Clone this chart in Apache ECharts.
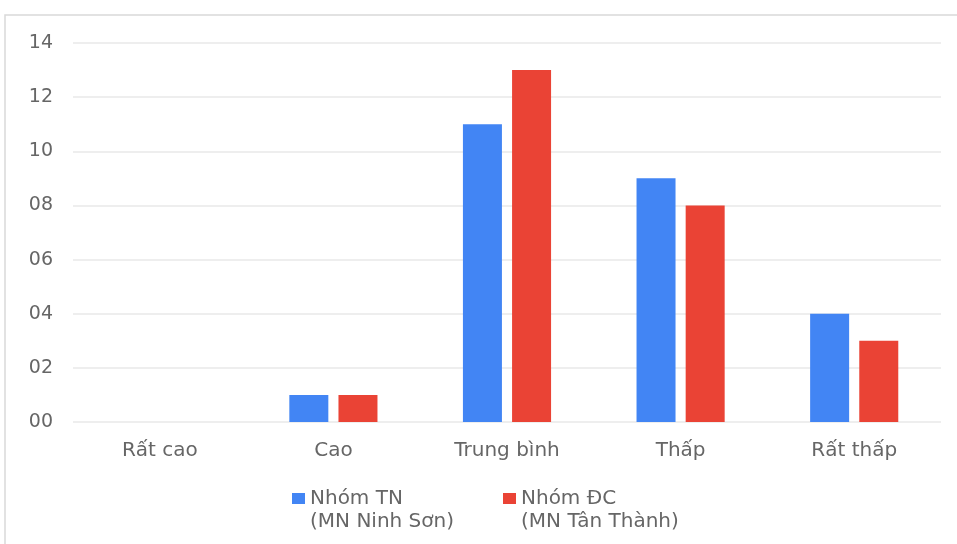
<!DOCTYPE html>
<html>
<head>
<meta charset="utf-8">
<script src="https://cdn.jsdelivr.net/npm/echarts@6/dist/echarts.min.js"></script>
<style>
  html, body { margin: 0; padding: 0; background: #fff; }
  #chart { width: 957px; height: 544px; }
</style>
</head>
<body>
<div id="chart"></div>
<script>
// Mức độ – số trẻ theo nhóm
const categories = ['Rất cao', 'Cao', 'Trung bình', 'Thấp', 'Rất thấp'];
const groupNames = ['Nhóm TN', 'Nhóm ĐC'];
const groupSubtitles = ['(MN Ninh Sơn)', '(MN Tân Thành)'];
const valuesTN = [0, 1, 11, 9, 4];
const valuesDC = [0, 1, 13, 8, 3];
const yTickLabels = ['00', '02', '04', '06', '08', '10', '12', '14'];

const chart = echarts.init(document.getElementById('chart'), null, { renderer: 'canvas' });
const font = 'DejaVu Sans, sans-serif';
const textGrey = '#666';

// shared legend geometry: the second legend carries the subtitle line under each name
const legendBase = {
  left: 292,
  padding: 0,
  itemWidth: 13,
  itemHeight: 11,
  itemGap: 30,
  icon: 'rect',
  selectedMode: false,
  data: groupNames
};

chart.setOption({
  animation: false,
  backgroundColor: '#fff',
  graphic: [{
    type: 'rect',
    shape: { x: 5, y: 15, width: 1000, height: 600 },
    style: { fill: 'none', stroke: '#d9d9d9', lineWidth: 1.5 },
    silent: true
  }],
  grid: { left: 73, right: 16, top: 43, bottom: 122 },
  legend: [
    Object.assign({}, legendBase, {
      top: 487,
      textStyle: { fontFamily: font, fontSize: 20, color: textGrey, width: 163, lineHeight: 23 }
    }),
    Object.assign({}, legendBase, {
      top: 510,
      itemStyle: { opacity: 0 },
      formatter: name => groupSubtitles[groupNames.indexOf(name)],
      textStyle: { fontFamily: font, fontSize: 20, color: textGrey, width: 163, lineHeight: 23 }
    })
  ],
  xAxis: {
    type: 'category',
    data: categories,
    axisLine: { show: false },
    axisTick: { show: false },
    axisLabel: { fontFamily: font, fontSize: 20, color: textGrey, margin: 19 }
  },
  yAxis: {
    type: 'value',
    min: 0, max: 14, interval: 2,
    axisLine: { show: false },
    axisTick: { show: false },
    splitLine: { lineStyle: { color: '#e8e8e8', width: 1.5 } },
    axisLabel: {
      fontFamily: font, fontSize: 19, color: textGrey, margin: 20,
      formatter: v => yTickLabels[Math.round(v / 2)]
    }
  },
  series: [
    {
      name: groupNames[0], type: 'bar', data: valuesTN,
      barWidth: 39, barGap: '26%',
      itemStyle: { color: '#4285F4' }
    },
    {
      name: groupNames[1], type: 'bar', data: valuesDC,
      barWidth: 39, barGap: '26%',
      itemStyle: { color: '#EA4335' }
    }
  ]
});
</script>
</body>
</html>
